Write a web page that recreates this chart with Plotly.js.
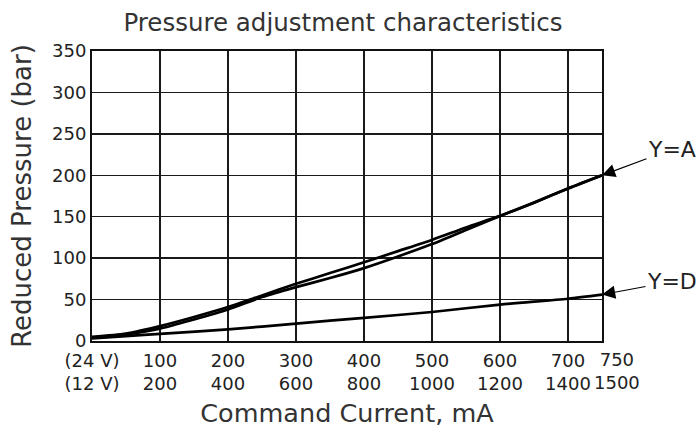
<!DOCTYPE html>
<html>
<head>
<meta charset="utf-8">
<script src="https://cdn.plot.ly/plotly-3.0.1.min.js"></script>
<style>html,body{margin:0;padding:0;background:#fff;}#chart{width:700px;height:428px;}</style>
</head>
<body>
<div id="chart"></div>
<script>
// Command current on the 24 V scale (mA)
const currentA = [0, 50, 100, 150, 200, 250, 300, 350, 400, 450, 500, 550, 600, 650, 700, 750];
// Y=A, rising branch (upper) and falling branch (lower) in bar
const pressureAUpper = [5, 9, 18, 29, 41, 55, 69, 82, 95, 108.5, 122, 137, 151, 167, 184, 200];
const pressureALower = [4, 8, 15, 26, 38, 53, 65, 76, 88, 102, 117, 134, 151, 167, 184, 200];
const currentD = [0, 50, 100, 200, 300, 400, 500, 600, 700, 750];
const pressureD = [3, 6, 8.5, 14, 21, 28, 35, 44, 51, 56];

const xTickVals = [0, 100, 200, 300, 400, 500, 600, 700];
const xTick24 = ["(24 V)", "100", "200", "300", "400", "500", "600", "700"];
const xTick12 = ["(12 V)", "200", "400", "600", "800", "1000", "1200", "1400"];
const xLastVal = 750;
const xLast24 = "750";
const xLast12 = "1500";
const yTickVals = [0, 50, 100, 150, 200, 250, 300, 350];

const FONT = "DejaVu Sans, sans-serif";
const lineStyle = {color: "#000", width: 2.7, shape: "spline", smoothing: 0.7};

const traces = [
  {x: currentA, y: pressureAUpper, mode: "lines", line: lineStyle, hoverinfo: "skip"},
  {x: currentA, y: pressureALower, mode: "lines", line: lineStyle, hoverinfo: "skip"},
  {x: currentD, y: pressureD, mode: "lines", line: lineStyle, hoverinfo: "skip"}
];

const layout = {
  width: 700, height: 428,
  margin: {l: 92, r: 98, t: 51, b: 87},
  paper_bgcolor: "#fff", plot_bgcolor: "#fff",
  showlegend: false,
  font: {family: FONT, color: "#222", size: 18},
  title: {text: "Pressure adjustment characteristics", font: {family: FONT, size: 24.5, color: "#333"},
          x: 0.49, xanchor: "center", y: 0.947, yanchor: "middle"},
  xaxis: {
    range: [0, 750], tickmode: "array", tickvals: xTickVals,
    ticktext: xTickVals.map((v, i) => xTick24[i] + "<br>" + xTick12[i]),
    tickfont: {family: FONT, size: 18, color: "#222"},
    ticks: "", ticklabelstandoff: 2, showgrid: true, gridcolor: "#1a1a1a", gridwidth: 1.3,
    zeroline: false, showline: true, mirror: true, linecolor: "#111", linewidth: 2,
    title: {text: "Command Current, mA", font: {family: FONT, size: 25.5, color: "#333"}, standoff: 17},
    fixedrange: true
  },
  yaxis: {
    range: [0, 350], tickmode: "array", tickvals: yTickVals,
    tickfont: {family: FONT, size: 18, color: "#222"},
    ticks: "", showgrid: true, gridcolor: "#1a1a1a", gridwidth: 1.3,
    zeroline: false, showline: true, mirror: true, linecolor: "#111", linewidth: 2,
    title: {text: "Reduced Pressure (bar)", font: {family: FONT, size: 26, color: "#333"}, standoff: 13},
    fixedrange: true
  },
  annotations: [
    {x: xLastVal, y: 0, xref: "x", yref: "y", text: xLast24 + "<br>" + xLast12,
     showarrow: false, xanchor: "center", yanchor: "top", xshift: 15, yshift: -6,
     font: {family: FONT, size: 18, color: "#222"}},
    {x: 750, y: pressureAUpper[pressureAUpper.length - 1], xref: "x", yref: "y", text: "Y=A",
     showarrow: true, arrowhead: 2, arrowsize: 2.2, arrowwidth: 1.2, arrowcolor: "#000",
     ax: 70, ay: -26, font: {family: FONT, size: 22, color: "#222"}},
    {x: 750, y: pressureD[pressureD.length - 1], xref: "x", yref: "y", text: "Y=D",
     showarrow: true, arrowhead: 2, arrowsize: 2.2, arrowwidth: 1.2, arrowcolor: "#000",
     ax: 70, ay: -13, font: {family: FONT, size: 22, color: "#222"}}
  ]
};

Plotly.newPlot("chart", traces, layout, {displayModeBar: false, staticPlot: true});
</script>
</body>
</html>
